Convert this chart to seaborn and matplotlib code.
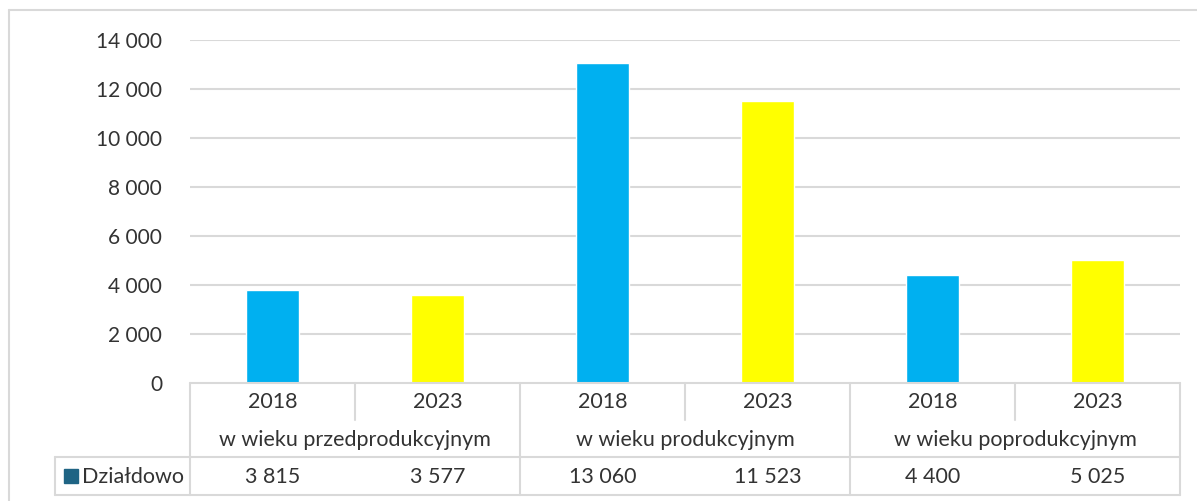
import matplotlib
matplotlib.use("Agg")
import matplotlib.pyplot as plt
import seaborn as sns
import pandas as pd
from matplotlib.lines import Line2D
from matplotlib.patches import Rectangle

groups = ["w wieku przedprodukcyjnym", "w wieku produkcyjnym", "w wieku poprodukcyjnym"]
years = ["2018", "2023"]
values = [3815, 3577, 13060, 11523, 4400, 5025]
value_labels = ["3 815", "3 577", "13 060", "11 523", "4 400", "5 025"]
series_name = "Działdowo"
yticks = [0, 2000, 4000, 6000, 8000, 10000, 12000, 14000]
ytick_labels = ["0", "2 000", "4 000", "6 000", "8 000", "10 000", "12 000", "14 000"]

W, H = 1197, 501
sns.set_theme(style="white")
plt.rcParams["font.family"] = ["Lato", "DejaVu Sans"]
TXT = "#333333"
GRID = "#D9D9D9"
FS = 15.5
FST = 15

fig = plt.figure(figsize=(W / 100, H / 100), dpi=100)
fig.patch.set_facecolor("white")

def fx(px):
    return px / W

def fy(py):
    return 1 - py / H

left, right, top, bottom = 190, 1180, 40, 383
ax = fig.add_axes([fx(left), fy(bottom), fx(right - left), (bottom - top) / H])

pos = [f"c{i}" for i in range(6)]
df = pd.DataFrame({
    "pos": pos,
    "value": values,
    "year": [years[i % 2] for i in range(6)],
})
sns.barplot(data=df, x="pos", y="value", hue="year", dodge=False, width=0.32,
            palette={"2018": "#00B0F0", "2023": "#FFFF00"}, order=pos,
            hue_order=years, legend=False, ax=ax, saturation=1)
ax.set_xlim(-0.5, 5.5)
ax.set_ylim(0, 14000)
ax.set_yticks(yticks)
ax.set_yticklabels(ytick_labels, fontsize=FST, color=TXT)
ax.tick_params(axis="y", length=0, pad=20)
ax.set_xticks([])
ax.set_xlabel("")
ax.set_ylabel("")
for sp in ax.spines.values():
    sp.set_visible(False)
for t in yticks[1:]:
    ax.axhline(t, color=GRID, lw=1.5, zorder=0)
ax.set_facecolor("white")

def hline(y, x0, x1):
    fig.add_artist(Line2D([fx(x0), fx(x1)], [fy(y), fy(y)], color=GRID, lw=1.5))

def vline(x, y0, y1):
    fig.add_artist(Line2D([fx(x), fx(x)], [fy(y0), fy(y1)], color=GRID, lw=1.5))

col_w = (right - left) / 6
cols = [left + i * col_w for i in range(7)]
r0, r1, r2, r3 = 383, 420, 457, 495
tleft = 55

hline(r0, left, right)
hline(r2, tleft, right)
hline(r3, tleft, right)
vline(tleft, r2, r3)
for i, x in enumerate(cols):
    if i in (1, 3, 5):
        vline(x, r0, r1)
    else:
        vline(x, r0, r3)

for i in range(6):
    cx = (cols[i] + cols[i + 1]) / 2
    fig.text(fx(cx), fy((r0 + r1) / 2 + 1), years[i % 2], ha="center", va="center", fontsize=FS, color=TXT)
    fig.text(fx(cx), fy((r2 + r3) / 2 + 1), value_labels[i], ha="center", va="center", fontsize=FS, color=TXT)
for g in range(3):
    cx = (cols[2 * g] + cols[2 * g + 2]) / 2
    fig.text(fx(cx), fy((r1 + r2) / 2 + 1), groups[g], ha="center", va="center", fontsize=FS, color=TXT)

fig.add_artist(Rectangle((fx(64), fy(483)), fx(14), 14 / H, color="#1F6484", transform=fig.transFigure))
fig.text(fx(82), fy((r2 + r3) / 2 + 1), series_name, ha="left", va="center", fontsize=FS, color=TXT)

fig.add_artist(Line2D([fx(9), 1], [fy(10), fy(10)], color=GRID, lw=1.5))
fig.add_artist(Line2D([fx(9), fx(9)], [fy(10), 0], color=GRID, lw=1.5))

fig.savefig("out.png", dpi=100, facecolor="white")
